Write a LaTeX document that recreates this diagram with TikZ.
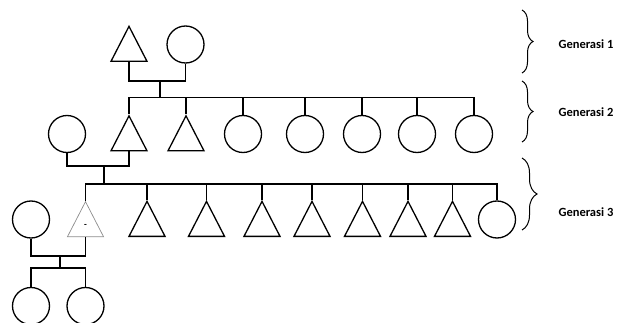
\documentclass[tikz,border=0pt]{standalone}
\usepackage{fontspec}
\setmainfont{Carlito}
\usetikzlibrary{shapes.geometric, decorations.pathreplacing}
\tikzstyle{male} = [isosceles triangle, isosceles triangle apex angle=54, isosceles triangle stretches, shape border rotate=90, draw=black, line width=1.3pt, inner sep=0pt, minimum width=36pt, minimum height=35pt, anchor=lower side, yshift=-17.5pt]
\tikzstyle{female} = [circle, draw=black, line width=1.3pt, inner sep=0pt, minimum size=37pt]
\tikzstyle{ghost} = [male, draw=black!45, line width=0.7pt, text=black, font=\small\bfseries]
\tikzstyle{line} = [line width=1.3pt]
\tikzstyle{brace} = [decorate, decoration={brace, amplitude=11pt}, line width=1pt]
\tikzstyle{gen} = [anchor=west, font=\bfseries\fontsize{12.5}{14}\selectfont]

\begin{document}
\begin{tikzpicture}[x=1pt, y=-1pt]
\useasboundingbox (0,0) rectangle (620,323);

% generasi 1
\node (ayah) [male] at (129,44.5) {};
\node (ibu) [female] at (185.5,44.5) {};

% generasi 2
\node (menantu) [female] at (67,134) {};
\node (anak1) [male] at (129,134) {};
\node (anak2) [male] at (186,134) {};
\node (anak3) [female] at (243,134) {};
\node (anak4) [female] at (305,134) {};
\node (anak5) [female] at (362,134) {};
\node (anak6) [female] at (417,134) {};
\node (anak7) [female] at (474,134) {};

% generasi 3
\node (istri) [female] at (31,219.5) {};
\node (cucu1) [ghost] at (85.5,219.5) {-};
\node (cucu2) [male] at (147,219.5) {};
\node (cucu3) [male] at (206.5,219.5) {};
\node (cucu4) [male] at (262,219.5) {};
\node (cucu5) [male] at (312,219.5) {};
\node (cucu6) [male] at (362.5,219.5) {};
\node (cucu7) [male] at (408,219.5) {};
\node (cucu8) [male] at (452.5,219.5) {};
\node (cucu9) [female] at (497,219.5) {};

% generasi 4
\node (cicit1) [female] at (31,306) {};
\node (cicit2) [female] at (85.5,306) {};

% titik sambung
\coordinate (kawin1) at (160,81);
\coordinate (sib1) at (160,97.5);
\coordinate (kawin2) at (104,166);
\coordinate (sib2) at (104,184);
\coordinate (kawin3) at (60,256);
\coordinate (sib3) at (60,268);

\draw [line] (ayah.lower side) |- (kawin1) -| (ibu.south);
\draw [line] (kawin1) -- (sib1);
\foreach \n/\a in {anak1/apex, anak2/apex, anak3/north, anak4/north, anak5/north, anak6/north, anak7/north}
  \draw [line] (sib1) -| (\n.\a);

\draw [line] (menantu.south) |- (kawin2) -| (anak1.lower side);
\draw [line] (kawin2) -- (sib2);
\foreach \n/\a in {cucu1/apex, cucu2/apex, cucu3/apex, cucu4/apex, cucu5/apex, cucu6/apex, cucu7/apex, cucu8/apex, cucu9/north}
  \draw [line] (sib2) -| (\n.\a);

\draw [line] (istri.south) |- (kawin3) -| (cucu1.lower side);
\draw [line] (kawin3) -- (sib3);
\foreach \n in {cicit1, cicit2}
  \draw [line] (sib3) -| (\n.north);

% kurung kurawal
\coordinate (b1a) at (522,10);
\coordinate (b1b) at (522,73);
\coordinate (b2a) at (522,81);
\coordinate (b2b) at (522,142);
\coordinate (b3a) at (522,158);
\coordinate (b3b) at (522,230);
\draw [brace] (b1a) -- (b1b);
\draw [brace] (b2a) -- (b2b);
\draw [brace, decoration={amplitude=15pt}] (b3a) -- (b3b);

\node (gen1) [gen] at (555,44) {Generasi 1};
\node (gen2) [gen] at (555,112) {Generasi 2};
\node (gen3) [gen] at (555,212) {Generasi 3};

\end{tikzpicture}
\end{document}
